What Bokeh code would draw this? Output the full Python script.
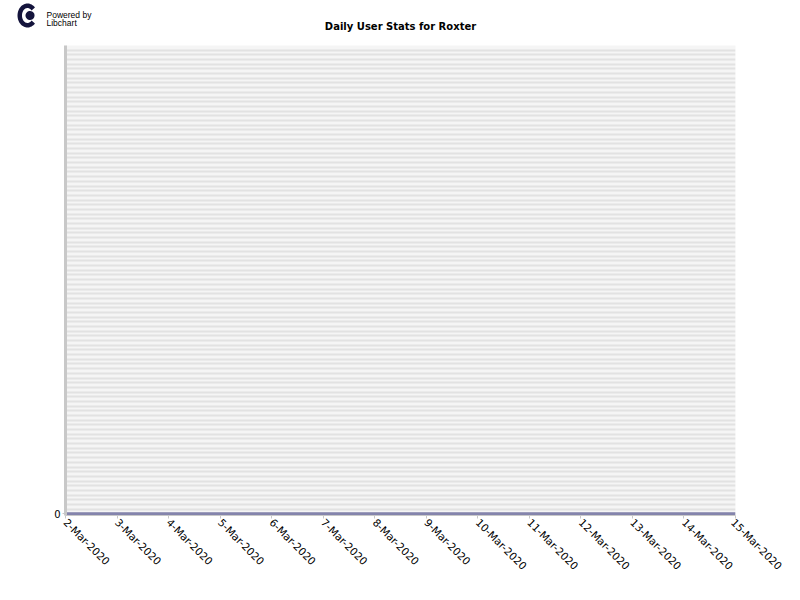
import math
import numpy as np
from bokeh.plotting import figure
from bokeh.layouts import column
from bokeh.models import Range1d, FixedTicker, SingleIntervalTicker
from bokeh.core.properties import value
from bokeh.embed import file_html
from bokeh.resources import INLINE

# ---- data ----
dates = ["2-Mar-2020", "3-Mar-2020", "4-Mar-2020", "5-Mar-2020", "6-Mar-2020",
         "7-Mar-2020", "8-Mar-2020", "9-Mar-2020", "10-Mar-2020", "11-Mar-2020",
         "12-Mar-2020", "13-Mar-2020", "14-Mar-2020", "15-Mar-2020"]
users = [0, 0, 0, 0, 0, 0, 0, 0, 0, 0, 0, 0, 0, 0]
y_ticks = [0]
title_text = "Daily User Stats for Roxter"
credit_lines = ["Powered by", "Libchart"]

W, HEAD_H = 784, 36

# ---------- header (logo + title), pixel-mapped ranges ----------
h = figure(width=W, height=HEAD_H, output_backend="svg", toolbar_location=None,
           x_range=Range1d(0, W), y_range=Range1d(HEAD_H, 0),
           x_axis_type=None, y_axis_type=None,
           min_border=0, min_border_left=0, min_border_right=0,
           min_border_top=0, min_border_bottom=0)
h.frame_align = False
h.outline_line_color = None
h.grid.grid_line_color = None
h.background_fill_color = "white"
h.border_fill_color = "white"

cx, cy = 27, 15
ang = np.linspace(math.radians(42), math.radians(318), 48)
outer_x = cx + 10 * np.cos(ang)
outer_y = cy + 12 * np.sin(ang)
inner_x = cx + 5.5 * np.cos(ang[::-1])
inner_y = cy + 7.5 * np.sin(ang[::-1])
h.patch(list(np.concatenate([outer_x, inner_x])), list(np.concatenate([outer_y, inner_y])),
        fill_color="#14143c", line_color=None)
dot = np.linspace(0, 2 * math.pi, 30)
h.patch(list(cx + 2.5 + 4.5 * np.cos(dot)), list(cy + 4.5 * np.sin(dot)),
        fill_color="#14143c", line_color=None)
h.text(x=[46, 46], y=[14, 22], text=credit_lines,
       text_font=value("Liberation Sans"), text_font_size="8.5px",
       text_color="black", text_baseline="alphabetic", text_align="left")
h.text(x=[400], y=[25.5], text=[title_text],
       text_font=value("DejaVu Sans"), text_font_style="bold", text_font_size="10px",
       text_color="black", text_baseline="middle", text_align="center")

# ---------- main chart ----------
xs = list(range(len(dates)))

p = figure(width=W, height=584 - HEAD_H, output_backend="svg", toolbar_location=None,
           x_range=Range1d(xs[0], xs[-1]), y_range=Range1d(-0.0035, 1),
           min_border_left=65, min_border_right=49,
           min_border_top=45 - HEAD_H, min_border_bottom=69)
p.frame_align = False

p.outline_line_color = None
p.background_fill_color = "#f5f5f5"
p.border_fill_color = "white"

# stripes
p.xgrid.grid_line_color = None
p.ygrid.ticker = SingleIntervalTicker(interval=0.01, num_minor_ticks=0)
p.ygrid.grid_line_color = "#e2e2e2"
p.ygrid.grid_line_width = 2

# y axis
p.yaxis.ticker = FixedTicker(ticks=y_ticks)
p.yaxis.axis_line_color = "#c8c8c8"
p.yaxis.axis_line_width = 3
p.yaxis.major_tick_out = 3
p.yaxis.major_tick_in = 0
p.yaxis.major_tick_line_color = "#c8c8c8"
p.yaxis.minor_tick_line_color = None
p.yaxis.major_label_text_font = "DejaVu Sans"
p.yaxis.major_label_text_font_size = "10px"
p.yaxis.major_label_text_color = "black"
p.yaxis.major_label_standoff = 2

# x axis
p.xaxis.ticker = FixedTicker(ticks=xs)
p.xaxis.major_label_overrides = {i: d for i, d in zip(xs, dates)}
p.xaxis.major_label_orientation = -math.pi / 4
p.xaxis.axis_line_color = "#c8c8c8"
p.xaxis.major_tick_out = 3
p.xaxis.major_tick_in = 0
p.xaxis.major_tick_line_color = "#c8c8c8"
p.xaxis.minor_tick_line_color = None
p.xaxis.major_label_text_font = "DejaVu Sans"
p.xaxis.major_label_text_font_size = "10.5px"
p.xaxis.major_label_text_color = "black"
p.xaxis.major_label_standoff = 2

# data line
p.line(xs, users, line_width=3, line_color="#8484ac")

layout = column(h, p, spacing=0)
open("out.html", "w").write(file_html(layout, INLINE))
